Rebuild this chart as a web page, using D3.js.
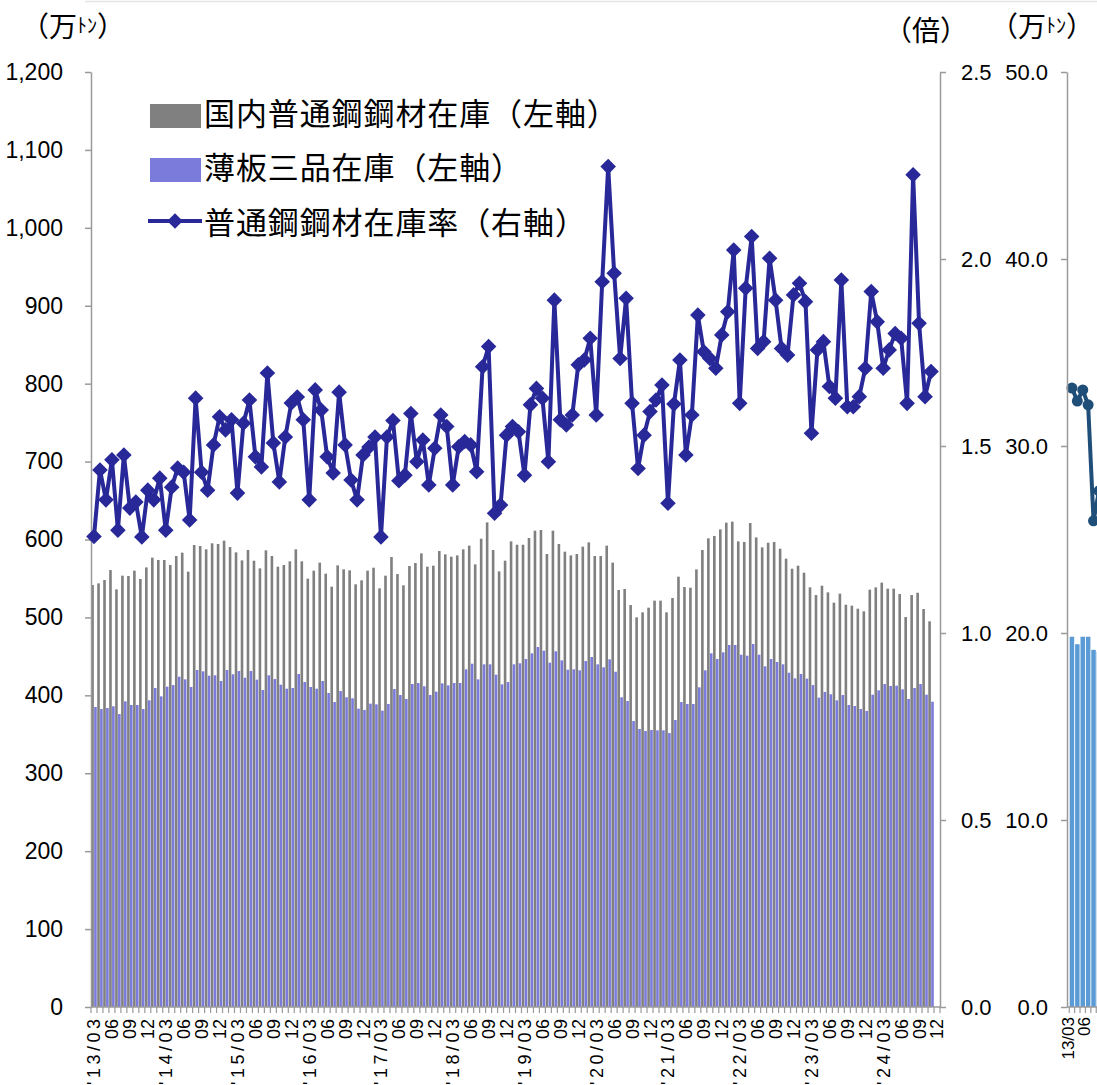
<!DOCTYPE html>
<html><head><meta charset="utf-8">
<script src="https://cdn.jsdelivr.net/npm/d3@7"></script>
<style>
body{margin:0;background:#fff;}
svg{display:block;}
text{font-family:"Liberation Sans",Arial,sans-serif;fill:#000;}
.cjk{font-family:"Noto Sans CJK JP","Noto Sans CJK SC",sans-serif;}
</style></head><body>
<svg id="chart" width="1097" height="1085"></svg>
<script>
// ---- data ----
const categories = [
"13/03","13/04","13/05","13/06","13/07","13/08","13/09","13/10","13/11","13/12",
"14/01","14/02","14/03","14/04","14/05","14/06","14/07","14/08","14/09","14/10","14/11","14/12",
"15/01","15/02","15/03","15/04","15/05","15/06","15/07","15/08","15/09","15/10","15/11","15/12",
"16/01","16/02","16/03","16/04","16/05","16/06","16/07","16/08","16/09","16/10","16/11","16/12",
"17/01","17/02","17/03","17/04","17/05","17/06","17/07","17/08","17/09","17/10","17/11","17/12",
"18/01","18/02","18/03","18/04","18/05","18/06","18/07","18/08","18/09","18/10","18/11","18/12",
"19/01","19/02","19/03","19/04","19/05","19/06","19/07","19/08","19/09","19/10","19/11","19/12",
"20/01","20/02","20/03","20/04","20/05","20/06","20/07","20/08","20/09","20/10","20/11","20/12",
"21/01","21/02","21/03","21/04","21/05","21/06","21/07","21/08","21/09","21/10","21/11","21/12",
"22/01","22/02","22/03","22/04","22/05","22/06","22/07","22/08","22/09","22/10","22/11","22/12",
"23/01","23/02","23/03","23/04","23/05","23/06","23/07","23/08","23/09","23/10","23/11","23/12",
"24/01","24/02","24/03","24/04","24/05","24/06","24/07","24/08","24/09","24/10","24/11","24/12"];

const totalStock = [
541.6,543.7,548.0,560.8,536.0,553.6,553.1,560.0,549.3,564.2,576.7,573.7,573.7,567.3,578.8,583.1,558.7,592.9,591.6,587.4,
595.1,594.2,598.5,590.3,583.5,573.2,586.5,572.8,563.0,586.1,578.8,565.1,567.3,572.0,587.4,572.0,549.7,560.0,570.3,556.1,
539.4,566.8,561.7,560.4,542.5,547.6,560.0,563.8,537.3,553.6,577.5,555.7,
541.2,566.0,569.8,582.2,565.1,566.4,585.2,580.9,577.9,579.6,587.4,592.1,568.1,601.0,622.0,586.5,559.1,572.8,597.6,593.3,
593.3,601.9,611.3,612.2,581.4,611.3,594.2,584.4,579.6,581.4,590.8,596.3,578.8,578.8,592.1,570.3,535.2,536.5,515.9,500.1,
506.5,512.5,521.5,521.5,506.5,524.9,552.3,
539.0,538.2,561.7,586.5,601.5,604.5,613.0,621.6,622.9,597.6,596.8,621.1,602.7,589.9,595.9,596.8,588.2,575.4,562.5,566.4,
557.4,538.6,528.7,540.7,532.2,518.9,530.5,516.3,515.1,511.2,507.8,535.6,538.6,544.6,536.9,536.9,530.0,500.5,528.7,531.7,
510.8,495.0,null];

const sheetStock = [
385.0,382.4,383.7,385.9,376.0,392.3,387.6,387.6,382.4,393.6,409.4,398.7,411.1,413.2,423.9,420.5,410.7,432.5,430.8,425.2,
425.7,418.4,432.5,427.0,431.2,422.6,431.2,420.1,406.8,425.7,420.9,413.6,408.5,409.4,427.4,417.1,410.7,408.5,418.4,403.0,
391.4,405.5,397.5,396.2,382.9,381.2,389.3,388.4,380.3,388.9,408.1,400.4,
395.3,414.5,415.8,411.6,400.4,404.7,415.4,412.8,415.8,415.8,433.4,440.6,420.5,439.8,439.8,426.5,414.1,417.1,439.8,441.1,
446.6,453.9,462.0,457.3,441.9,456.5,444.9,432.9,433.4,432.1,444.0,449.2,439.8,436.0,446.2,430.3,397.5,392.7,367.0,
356.8,354.2,355.5,355.1,355.1,351.6,
368.3,391.4,388.9,388.9,410.3,432.1,453.9,446.6,455.2,464.6,464.6,452.1,450.9,465.9,452.1,437.2,446.6,442.8,439.8,429.0,
421.8,427.4,421.4,413.2,397.0,404.3,401.3,393.6,400.4,387.6,386.3,382.4,379.9,400.8,406.4,414.5,412.0,412.4,407.7,395.3,
409.4,414.5,400.8,391.8,null];

const stockRatio = [
1.258,1.436,1.356,1.463,1.275,1.476,1.334,1.350,1.257,1.382,1.356,1.414,1.275,1.390,1.441,1.430,1.302,1.628,1.430,1.382,
1.503,1.578,1.543,1.570,1.374,1.561,1.623,1.471,1.444,1.695,1.508,1.404,1.524,1.615,1.631,1.570,1.356,1.650,1.596,1.471,
1.428,1.644,1.503,1.409,1.356,1.476,1.497,1.524,1.257,1.524,1.568,1.407,1.422,1.587,1.458,1.516,1.396,1.494,1.583,1.552,
1.396,1.498,1.512,1.503,1.431,1.712,1.766,1.320,1.342,1.529,1.552,1.538,1.422,1.610,1.654,1.628,1.458,1.890,1.570,1.556,
1.583,1.717,1.730,1.788,1.583,1.939,2.247,1.962,1.734,1.895,1.614,1.440,1.529,1.592,1.623,1.663,1.347,1.612,1.730,1.476,
1.583,1.850,1.752,1.734,1.708,1.797,1.859,2.024,1.614,1.922,2.060,1.761,1.779,2.002,1.890,1.761,1.743,1.904,1.935,1.886,
1.534,1.757,1.779,1.659,1.628,1.944,1.605,1.605,1.632,1.708,1.913,1.832,1.708,1.757,1.801,1.788,1.614,2.225,1.828,1.632,
1.699,null];

const leftTicks = [0,100,200,300,400,500,600,700,800,900,1000,1100,1200];
const rightTicks = [0,0.5,1.0,1.5,2.0,2.5];
const legendLabels = ["国内普通鋼鋼材在庫（左軸）","薄板三品在庫（左軸）","普通鋼鋼材在庫率（右軸）"];

// partial second chart at right edge
const rightCats = ["13/03","13/04","13/05","13/06","13/07","13/08"];
const rightBars = [19.8,19.4,19.8,19.8,19.1,19.0];
const rightLine = [33.1,32.4,33.0,32.2,26.0,27.6];
const rightTicks2 = [0,10,20,30,40,50];
const rightLabels2 = {"13/03":"13/03","13/06":"06"};

// ---- colors ----
const cGray = "#808080", cBlue = "#7b7bdc", cLine = "#282898";
const cAxis = "#9a9a9a";
const cBar2 = "#5b9bd5", cLine2 = "#1f4e79";

const svg = d3.select("#chart");

// faint top border
svg.append("line").attr("x1",85).attr("x2",1097).attr("y1",1.5).attr("y2",1.5)
  .attr("stroke","#e4e4e4").attr("stroke-width",1.5);

// ---- scales ----
const x = d3.scaleBand().domain(categories).range([91,940]).paddingInner(0).paddingOuter(0);
const bw = x.bandwidth();
const sub = d3.scaleBand().domain(["total","sheet"]).range([0,bw]).paddingInner(0.1).paddingOuter(0.08);
const yL = d3.scaleLinear().domain([0,1200]).range([1007,72]);
const yR = d3.scaleLinear().domain([0,2.5]).range([1007,72]);
const cx = c => x(c) + bw/2;

// ---- bars ----
const gBars = svg.append("g");
gBars.selectAll("rect.t").data(categories.filter((c,i)=>totalStock[i]!=null)).join("rect")
  .attr("x", c => x(c) + sub("total"))
  .attr("width", sub.bandwidth())
  .attr("y", c => yL(totalStock[categories.indexOf(c)]))
  .attr("height", c => yL(0) - yL(totalStock[categories.indexOf(c)]))
  .attr("fill", cGray);
gBars.selectAll("rect.s").data(categories.filter((c,i)=>sheetStock[i]!=null)).join("rect")
  .attr("x", c => x(c) + sub("sheet"))
  .attr("width", sub.bandwidth())
  .attr("y", c => yL(sheetStock[categories.indexOf(c)]))
  .attr("height", c => yL(0) - yL(sheetStock[categories.indexOf(c)]))
  .attr("fill", cBlue);

// ---- axes ----
function styleAxis(g, fs){
  g.select(".domain").attr("stroke", cAxis).attr("stroke-width",1.5);
  g.selectAll(".tick line").attr("stroke", cAxis).attr("stroke-width",1.5);
  g.selectAll(".tick text").attr("font-size", fs).attr("fill","#000")
    .attr("font-family",'"Liberation Sans",Arial,sans-serif');
}
svg.append("g").attr("transform","translate(91,0)")
  .call(d3.axisLeft(yL).tickValues(leftTicks).tickFormat(d3.format(",")).tickSize(6).tickSizeOuter(0).tickPadding(22))
  .call(g => styleAxis(g, 23));
svg.append("g").attr("transform","translate(940,0)")
  .call(d3.axisRight(yR).tickValues(rightTicks).tickFormat(d3.format(".1f")).tickSize(6).tickSizeOuter(0).tickPadding(15))
  .call(g => styleAxis(g, 22));

// x axis line + boundary ticks
const gx = svg.append("g");
gx.append("line").attr("x1",91).attr("x2",940).attr("y1",1007).attr("y2",1007)
  .attr("stroke",cAxis).attr("stroke-width",1.5);
gx.selectAll("line.b").data(categories).join("line")
  .attr("x1", c => x(c)).attr("x2", c => x(c)).attr("y1",1007).attr("y2",1013)
  .attr("stroke",cAxis).attr("stroke-width",1.2);
gx.append("line").attr("x1",940).attr("x2",940).attr("y1",1007).attr("y2",1013)
  .attr("stroke",cAxis).attr("stroke-width",1.2);
function tickLabel(c){
  const [yy, mm] = c.split("/");
  if (mm === "03") return "'" + yy + "/03";
  if (mm === "06" || mm === "09" || mm === "12") return mm;
  return null;
}
gx.selectAll("text").data(categories.filter(c => tickLabel(c))).join("text")
  .attr("transform", c => `translate(${cx(c)},1019) rotate(-90)`)
  .attr("text-anchor","end").attr("dy","0.36em")
  .attr("font-size",18)
  .each(function(c){
    const t = tickLabel(c);
    d3.select(this).text(t);
    if (t.length > 2) d3.select(this).attr("textLength",66).attr("lengthAdjust","spacing");
  });

// ---- ratio line ----
const line = d3.line().defined(d => d != null)
  .x((d,i) => cx(categories[i])).y(d => yR(d));
svg.append("path").datum(stockRatio).attr("d", line)
  .attr("fill","none").attr("stroke",cLine).attr("stroke-width",4).attr("stroke-linejoin","round");
const diamond = "M0,-7.8L7.8,0L0,7.8L-7.8,0Z";
svg.append("g").selectAll("path").data(categories.filter((c,i)=>stockRatio[i]!=null)).join("path")
  .attr("d", diamond)
  .attr("transform", c => `translate(${cx(c)},${yR(stockRatio[categories.indexOf(c)])})`)
  .attr("fill", cLine);

// ---- legend ----
const lg = svg.append("g");
const legendY = [125, 179, 234];
lg.append("rect").attr("x",150).attr("y",104).attr("width",51).attr("height",24).attr("fill",cGray);
lg.append("rect").attr("x",150).attr("y",158).attr("width",51).attr("height",24).attr("fill",cBlue);
lg.append("line").attr("x1",148).attr("x2",202).attr("y1",221).attr("y2",221)
  .attr("stroke",cLine).attr("stroke-width",4);
lg.append("path").attr("d",diamond).attr("transform","translate(175,221)").attr("fill",cLine);
lg.selectAll("text").data(legendLabels).join("text")
  .attr("class","cjk").attr("x",204).attr("y",(d,i)=>legendY[i])
  .attr("font-size",31).attr("letter-spacing",0.9).text(d=>d);

// ---- unit labels ----
function unitTon(xp, yp){
  const t = svg.append("text").attr("class","cjk").attr("x",xp).attr("y",yp).attr("font-size",28);
  t.append("tspan").text("（万");
  t.append("tspan").attr("font-size",20).attr("dy",-4).text("ﾄﾝ");
  t.append("tspan").attr("dy",4).text("）");
}
unitTon(21, 37);
svg.append("text").attr("class","cjk").attr("x",884).attr("y",41).attr("font-size",28).text("（倍）");
unitTon(990, 37);

// ---- partial second chart ----
const x2 = d3.scaleBand().domain(rightCats).range([1067, 1067 + 5.4*(rightCats.length - 0.17 + 1)])
  .paddingInner(0.17).paddingOuter(0.5);
const yR2 = d3.scaleLinear().domain([0,50]).range([1007,72]);
const cx2 = c => x2(c) + x2.bandwidth()/2;
svg.append("g").selectAll("rect").data(rightCats).join("rect")
  .attr("x", c => x2(c)).attr("width", x2.bandwidth())
  .attr("y", (c,i) => yR2(rightBars[i])).attr("height",(c,i)=> yR2(0)-yR2(rightBars[i]))
  .attr("fill", cBar2);
const line2 = d3.line().x((d,i)=>cx2(rightCats[i])).y(d=>yR2(d));
svg.append("path").datum(rightLine).attr("d",line2).attr("fill","none")
  .attr("stroke",cLine2).attr("stroke-width",4);
svg.append("g").selectAll("circle").data(rightCats).join("circle")
  .attr("cx", c => cx2(c)).attr("cy",(c,i)=>yR2(rightLine[i])).attr("r",5.5).attr("fill",cLine2);
svg.append("g").attr("transform","translate(1067,0)")
  .call(d3.axisLeft(yR2).tickValues(rightTicks2).tickFormat(d3.format(".1f")).tickSize(6).tickSizeOuter(0).tickPadding(13))
  .call(g => styleAxis(g, 22));
const gx2 = svg.append("g");
gx2.append("line").attr("x1",1067).attr("x2",1097).attr("y1",1007).attr("y2",1007)
  .attr("stroke",cAxis).attr("stroke-width",1.5);
gx2.selectAll("line.b").data(rightCats).join("line")
  .attr("x1", c => x2(c) - x2.step()*0.085).attr("x2", c => x2(c) - x2.step()*0.085)
  .attr("y1",1007).attr("y2",1013).attr("stroke",cAxis).attr("stroke-width",1.2);
gx2.selectAll("text").data(rightCats.filter(c => rightLabels2[c])).join("text")
  .attr("transform", c => `translate(${cx2(c) - 4},1017) rotate(-90)`)
  .attr("text-anchor","end").attr("dy","0.36em").attr("font-size",17)
  .text(c => rightLabels2[c]);
</script>
</body></html>
